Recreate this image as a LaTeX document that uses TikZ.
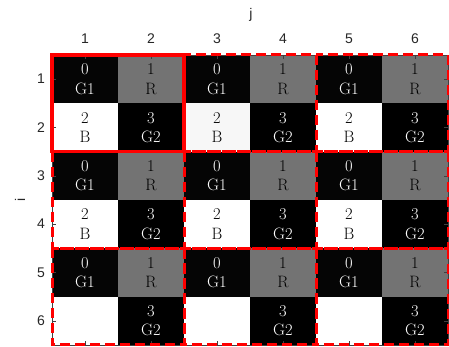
\documentclass[tikz,border=0pt]{standalone}
\usepackage{fontspec}
\newfontfamily\axfont{Liberation Sans}
\definecolor{gone}{HTML}{050505}
\definecolor{gtwo}{HTML}{000000}
\definecolor{rgray}{HTML}{737373}
\definecolor{axgray}{HTML}{404040}
\begin{document}
\begin{tikzpicture}[x=1pt,y=-1pt,
  cell/.style={minimum width=66pt, minimum height=48.33pt, inner sep=0pt, outer sep=0pt,
    align=center, font=\fontsize{16.5}{19.5}\selectfont, anchor=center},
  gonecell/.style={cell, fill=gone, text=white},
  rcell/.style={cell, fill=rgray, text=black},
  bcell/.style={cell, fill=white, text=black},
  gtwocell/.style={cell, fill=gtwo, text=white},
  ticklab/.style={font=\axfont\fontsize{14}{16}\selectfont, text=black!85, inner sep=0pt},
  tickline/.style={draw=axgray, line width=0.6pt},
  solidbox/.style={draw=red, line width=3.5pt},
  dashbox/.style={draw=red, line width=3pt, dash pattern=on 10pt off 5pt}]
\useasboundingbox (0,0) rectangle (449,347);
% cells
\foreach \r in {1,3,5} \foreach \c in {1,3,5}
  \node[gonecell] (c\r-\c) at ({52+66*(\c-0.5)},{55+48.333*(\r-0.5)}) {0\\G1};
\foreach \r in {1,3,5} \foreach \c in {2,4,6}
  \node[rcell] (c\r-\c) at ({52+66*(\c-0.5)},{55+48.333*(\r-0.5)}) {1\\R};
\foreach \r in {2,4} \foreach \c in {1,3,5}
  \node[bcell] (c\r-\c) at ({52+66*(\c-0.5)},{55+48.333*(\r-0.5)}) {2\\B};
\foreach \c in {1,3,5}
  \node[bcell] (c6-\c) at ({52+66*(\c-0.5)},{55+48.333*5.5}) {};
\foreach \r in {2,4,6} \foreach \c in {2,4,6}
  \node[gtwocell] (c\r-\c) at ({52+66*(\c-0.5)},{55+48.333*(\r-0.5)}) {3\\G2};
% slightly off-white cell
\node[cell, fill=black!3, text=black] (c2-3b) at (c2-3) {2\\B};
% axes frame and ticks
\draw[tickline] (c1-1.north west) rectangle (c6-6.south east);
\foreach \c in {1,...,6} {
  \draw[tickline] (c1-\c.north) -- ++(0,4);
  \draw[tickline] (c6-\c.south) -- ++(0,-4);
  \node[ticklab] (tj\c) at ({52+66*(\c-0.5)},38.5) {\c};
}
\foreach \r in {1,...,6} {
  \draw[tickline] (c\r-1.west) -- ++(4,0);
  \draw[tickline] (c\r-6.east) -- ++(-4,0);
  \node[ticklab, anchor=east] (ti\r) at (45,{55+48.333*(\r-0.5)}) {\r};
}
\node[ticklab] (jlab) at (251,15) {j};
\node[ticklab, rotate=90] (ilab) at (20,200) {i};
% dashed block boxes
\foreach \a/\b/\cc/\d in {1/3/2/4, 1/5/2/6, 3/1/4/2, 3/3/4/4, 3/5/4/6, 5/1/6/2, 5/3/6/4, 5/5/6/6}
  \draw[dashbox] (c\a-\b.north west) rectangle (c\cc-\d.south east);
% solid block box
\draw[solidbox] (c1-1.north west) rectangle (c2-2.south east);
\end{tikzpicture}
\end{document}
